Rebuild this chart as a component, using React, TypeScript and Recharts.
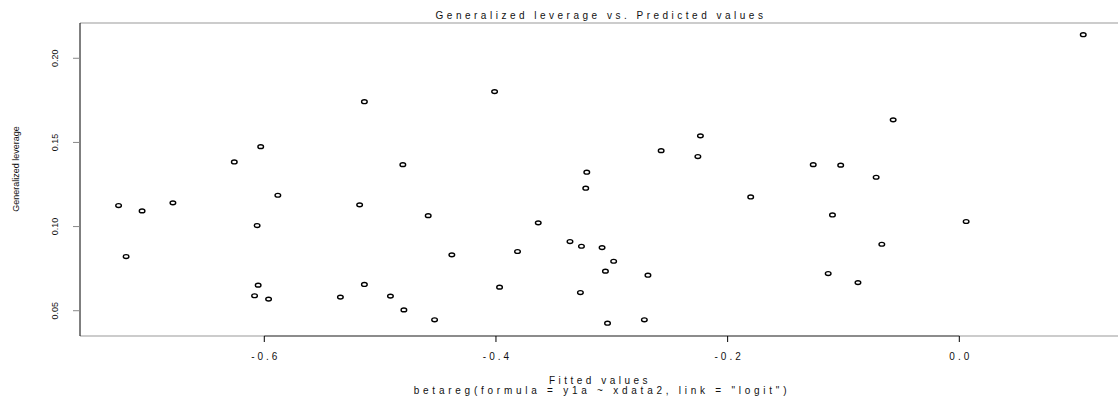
import React from 'react';
import {
    ScatterChart,
    Scatter,
    XAxis,
    YAxis,
    ReferenceLine,
    Label
} from 'recharts';

// fitted values (x) and generalized leverage (y)
const fittedValues = [
    -0.7258, -0.7193, -0.7055, -0.6789, -0.6259, -0.6031, -0.6062, -0.5883, -0.6053, -0.6084,
    -0.5963, -0.5343, -0.5177, -0.5136, -0.5136, -0.4911, -0.4804, -0.4795, -0.4585, -0.4530,
    -0.4381, -0.4012, -0.3969, -0.3814, -0.3635, -0.3361, -0.3271, -0.3262, -0.3225, -0.3216,
    -0.3084, -0.3055, -0.3037, -0.2984, -0.2719, -0.2688, -0.2574, -0.2257, -0.2235, -0.1801,
    -0.1261, -0.1132, -0.1095, -0.1024, -0.0875, -0.0718, -0.0669, -0.0571, 0.0059, 0.1070
];

const leverage = [
    0.1125, 0.0822, 0.1093, 0.1141, 0.1384, 0.1475, 0.1006, 0.1186, 0.0652, 0.0589,
    0.0569, 0.0581, 0.1129, 0.1742, 0.0656, 0.0587, 0.1368, 0.0505, 0.1065, 0.0446,
    0.0832, 0.1802, 0.0640, 0.0852, 0.1022, 0.0911, 0.0608, 0.0883, 0.1228, 0.1323,
    0.0875, 0.0735, 0.0426, 0.0794, 0.0446, 0.0711, 0.1451, 0.1416, 0.1539, 0.1176,
    0.1368, 0.0721, 0.1069, 0.1365, 0.0667, 0.1293, 0.0895, 0.1634, 0.1030, 0.2140
];

const xTicks = [-0.6, -0.4, -0.2, 0.0];
const yTicks = [0.05, 0.10, 0.15, 0.20];

const title = 'Generalized leverage vs. Predicted values';
const xLabel = 'Fitted values';
const subLabel = 'betareg(formula = y1a ~ xdata2, link = "logit")';
const yLabel = 'Generalized leverage';

const xDomain: [number, number] = [-0.7591, 0.1370];
const yDomain: [number, number] = [0.03498, 0.22096];

const font = '"Liberation Sans", Arial, sans-serif';

const data = fittedValues.map((x, i) => ({ x, y: leverage[i] }));

const OpenCircle = (props: any) => {
    const { cx, cy } = props;
    if (cx == null || cy == null) return null;
    return <ellipse cx={cx} cy={cy} rx={2.8} ry={1.9} fill="none" stroke="#000" strokeWidth={1.4} />;
};

const XTick = (props: any) => {
    const { x, payload } = props;
    return (
        <text x={x + 1.5} y={360} textAnchor="middle" fontSize={10} letterSpacing={3}
            fontFamily={font} fill="#111">
            {Number(payload.value).toFixed(1)}
        </text>
    );
};

const YTick = (props: any) => {
    const { y, payload } = props;
    return (
        <text x={0} y={0} transform={`translate(58, ${y}) rotate(-90)`} textAnchor="middle"
            fontSize={9} fontFamily={font} fill="#111">
            {Number(payload.value).toFixed(2)}
        </text>
    );
};

export default function App() {
    return (
        <div style={{ position: 'absolute', left: 0, top: 0, width: 1118, height: 403, background: '#fff' }}>
            <ScatterChart width={1118} height={403} margin={{ top: 23, right: 0, bottom: 37, left: 0 }}>
                <XAxis
                    type="number"
                    dataKey="x"
                    domain={xDomain}
                    ticks={xTicks}
                    allowDataOverflow
                    height={30}
                    axisLine={{ stroke: '#999' }}
                    tickLine={{ stroke: '#000' }}
                    tickSize={6}
                    tick={<XTick />}
                >
                    <Label
                        content={() => (
                            <g fontFamily={font} fontSize={10} fill="#111">
                                <text x={600} y={384} textAnchor="middle" letterSpacing={3.5}>{xLabel}</text>
                                <text x={602} y={394} textAnchor="middle" letterSpacing={3.75}>{subLabel}</text>
                            </g>
                        )}
                    />
                </XAxis>
                <YAxis
                    type="number"
                    dataKey="y"
                    domain={yDomain}
                    ticks={yTicks}
                    allowDataOverflow
                    width={80}
                    axisLine={{ stroke: '#000' }}
                    tickLine={{ stroke: '#888' }}
                    tickSize={7}
                    tick={<YTick />}
                >
                    <Label
                        content={() => (
                            <text x={0} y={0} transform="translate(19, 169) rotate(-90)" textAnchor="middle"
                                fontSize={9} fontFamily={font} fill="#111">
                                {yLabel}
                            </text>
                        )}
                    />
                </YAxis>
                <ReferenceLine y={yDomain[1]} stroke="#999">
                    <Label
                        content={() => (
                            <text x={601} y={19} textAnchor="middle" fontSize={10} letterSpacing={3.5}
                                fontFamily={font} fill="#111">
                                {title}
                            </text>
                        )}
                    />
                </ReferenceLine>
                <ReferenceLine
                    segment={[{ x: xTicks[0], y: yDomain[0] }, { x: xTicks[xTicks.length - 1], y: yDomain[0] }]}
                    stroke="#000"
                />
                <Scatter data={data} shape={<OpenCircle />} isAnimationActive={false} />
            </ScatterChart>
        </div>
    );
}
